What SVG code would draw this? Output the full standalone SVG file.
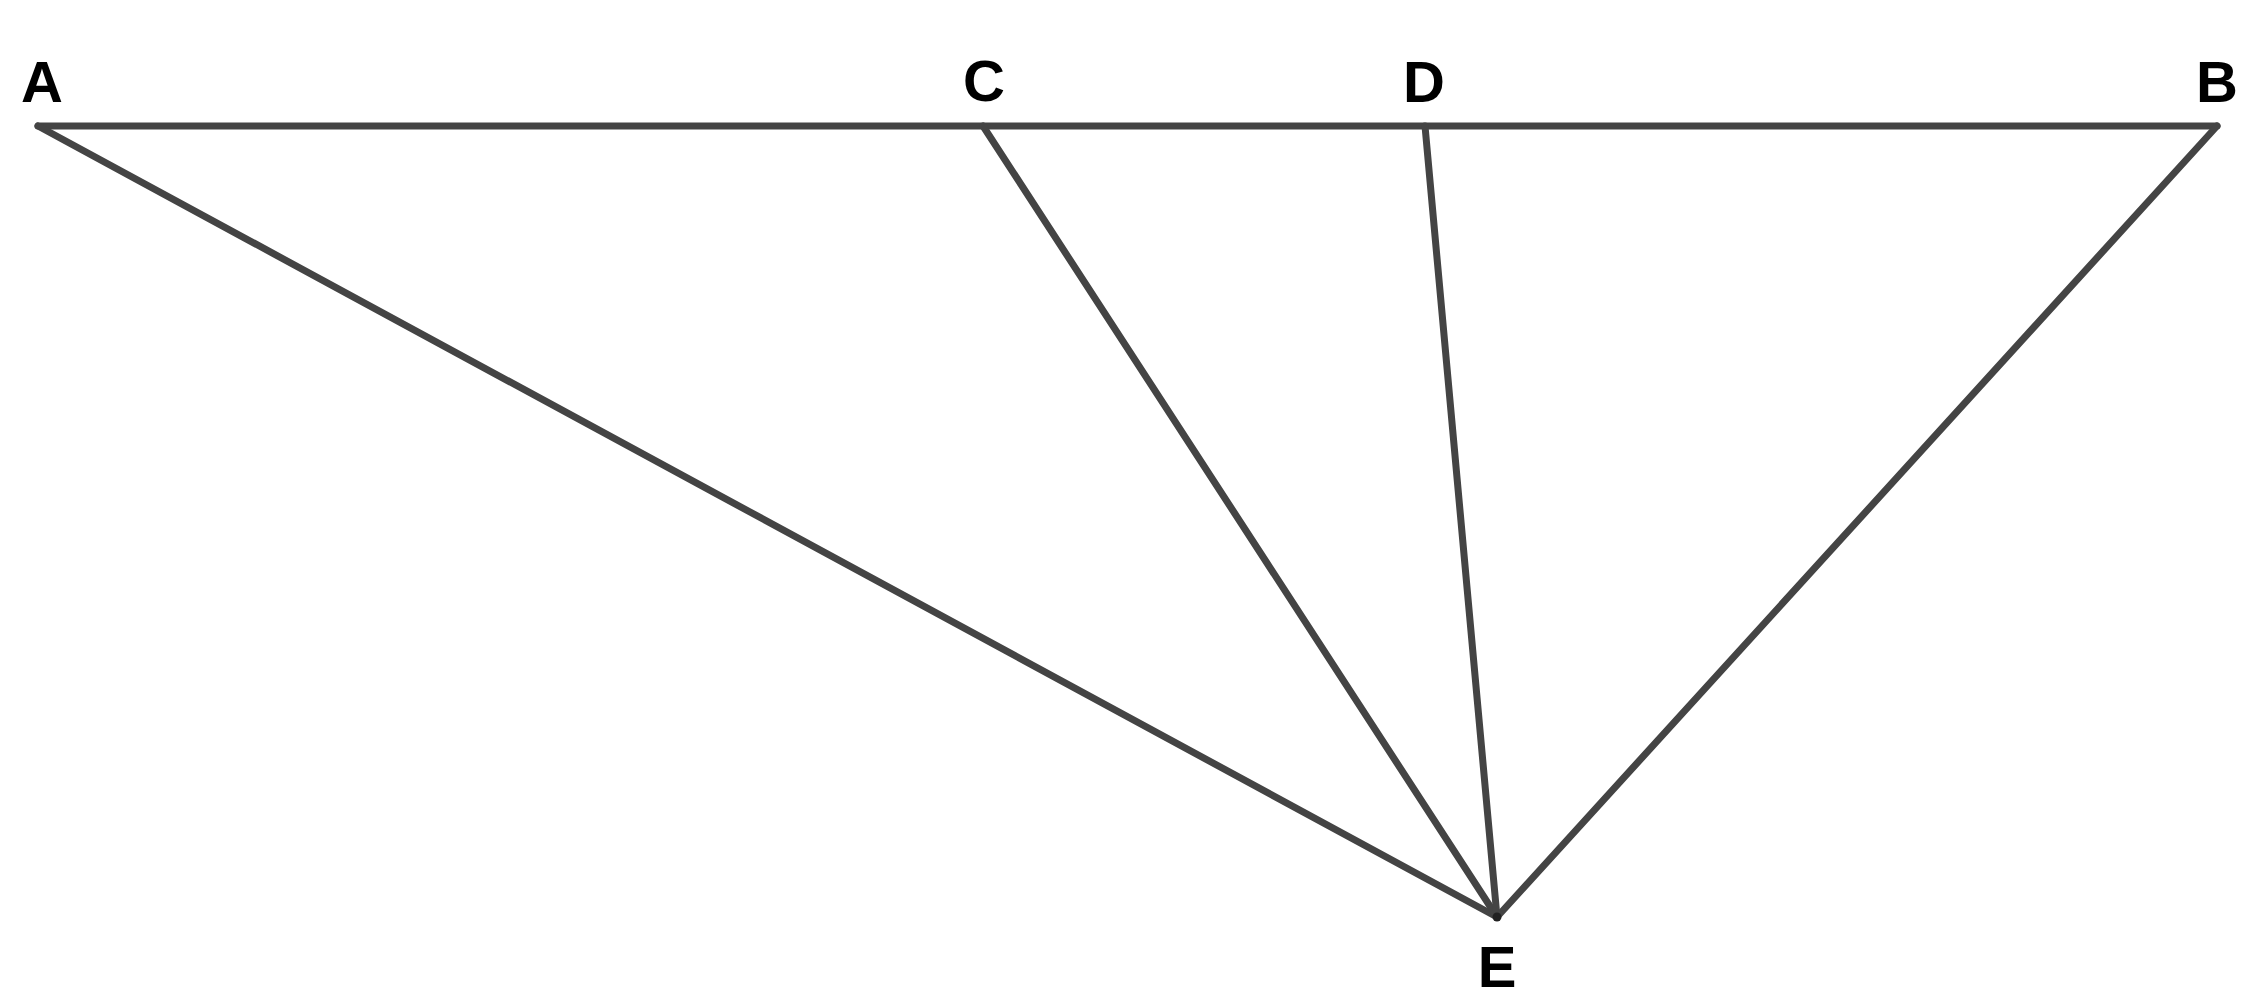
<svg xmlns="http://www.w3.org/2000/svg" width="2252" height="1008" viewBox="0 0 2252 1008">
<style>
.e{stroke:#444;stroke-width:7;stroke-linecap:round;fill:none}
.l{font-family:"Liberation Sans",Arial,sans-serif;font-weight:bold;font-size:58px;fill:#000;text-anchor:middle}
</style>
<rect width="2252" height="1008" fill="#fff"/>
<g id="connectors">
<line class="e" x1="38" y1="126" x2="2217" y2="126"/>
<line class="e" x1="38" y1="126" x2="1497" y2="917"/>
<line class="e" x1="983" y1="126" x2="1497" y2="917"/>
<line class="e" x1="1425" y1="126" x2="1497" y2="917"/>
<line class="e" x1="2217" y1="126" x2="1497" y2="917"/>
</g>
<g id="A"><text class="l" x="42" y="102">A</text></g>
<g id="C"><text class="l" x="984" y="101">C</text></g>
<g id="D"><text class="l" x="1424" y="102">D</text></g>
<g id="B"><text class="l" x="2217" y="102">B</text></g>
<g id="E"><circle cx="1497" cy="917" r="4.5" fill="#222"/><text class="l" x="1497" y="987">E</text></g>
</svg>
